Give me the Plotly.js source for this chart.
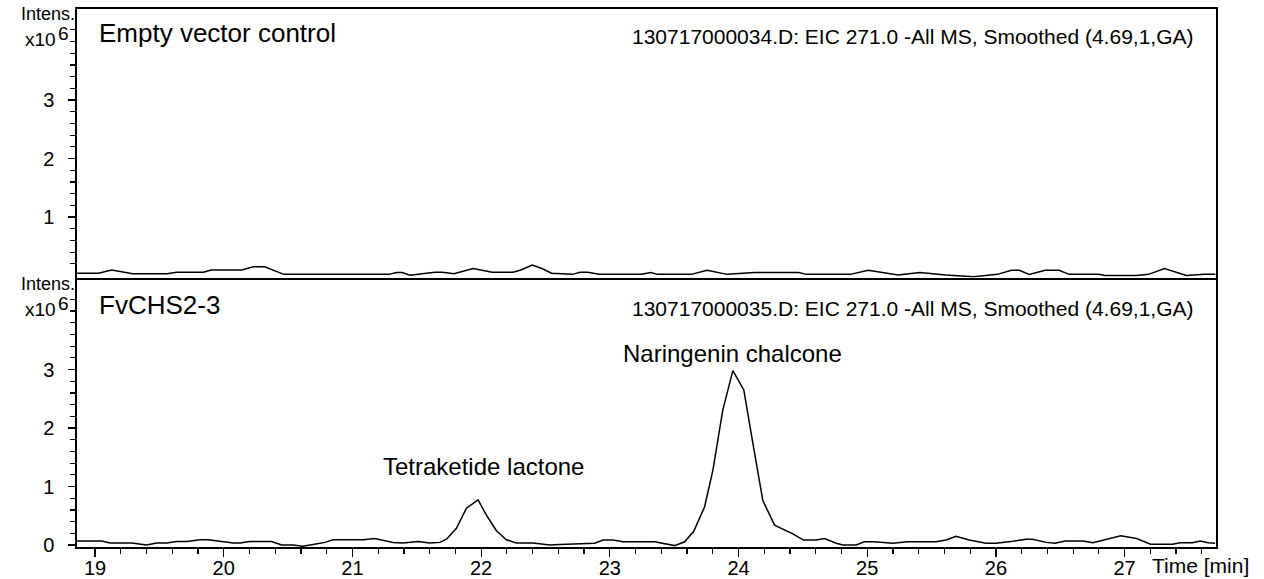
<!DOCTYPE html>
<html>
<head>
<meta charset="utf-8">
<script src="https://cdn.plot.ly/plotly-3.0.1.min.js"></script>
<style>
  html, body { margin: 0; padding: 0; background: #ffffff; }
  #chart { width: 1264px; height: 579px; }
</style>
</head>
<body>
<div id="chart"></div>
<script>
// ---- Data (retention time in min, intensity in x10^6) ----
const timeControl = [18.862, 19.026, 19.130, 19.293, 19.561, 19.634, 19.842, 19.902, 20.140, 20.229,
  20.318, 20.467, 21.283, 21.343, 21.387, 21.447, 21.640, 21.700, 21.789, 21.937,
  22.086, 22.249, 22.309, 22.398, 22.472, 22.547, 22.710, 22.769, 22.828, 22.918,
  23.245, 23.319, 23.371, 23.633, 23.756, 23.911, 24.127, 24.467, 24.529, 24.869,
  25.008, 25.240, 25.409, 25.610, 25.827, 26.012, 26.120, 26.182, 26.259, 26.383,
  26.491, 26.568, 26.800, 26.846, 27.093, 27.186, 27.310, 27.480, 27.619, 27.705];
const intensControl = [0.04, 0.04, 0.095, 0.03, 0.03, 0.055, 0.055, 0.095, 0.095, 0.15,
  0.15, 0.02, 0.02, 0.05, 0.05, 0.005, 0.055, 0.055, 0.03, 0.12,
  0.055, 0.055, 0.095, 0.18, 0.12, 0.04, 0.02, 0.055, 0.055, 0.02,
  0.02, 0.05, 0.02, 0.02, 0.09, 0.02, 0.05, 0.05, 0.02, 0.02,
  0.09, 0.01, 0.05, 0.01, -0.02, 0.02, 0.09, 0.09, 0.02, 0.09,
  0.09, 0.02, 0.02, 0.0, 0.0, 0.02, 0.12, 0.0, 0.02, 0.02];

const timeCHS = [18.858, 19.052, 19.116, 19.285, 19.401, 19.479, 19.557, 19.634, 19.712, 19.815,
  19.880, 19.996, 20.074, 20.126, 20.203, 20.372, 20.450, 20.540, 20.613, 20.695,
  20.786, 20.850, 21.083, 21.174, 21.252, 21.316, 21.394, 21.510, 21.601, 21.679,
  21.731, 21.808, 21.886, 21.976, 22.041, 22.119, 22.196, 22.274, 22.403, 22.533,
  22.610, 22.882, 22.946, 23.024, 23.102, 23.348, 23.503, 23.581, 23.651, 23.736,
  23.801, 23.878, 23.956, 24.041, 24.113, 24.189, 24.280, 24.422, 24.505, 24.603,
  24.668, 24.759, 24.810, 24.914, 24.978, 25.056, 25.198, 25.314, 25.535, 25.613,
  25.690, 25.793, 25.923, 26.001, 26.130, 26.234, 26.285, 26.389, 26.459, 26.537,
  26.676, 26.753, 26.970, 27.093, 27.201, 27.371, 27.433, 27.526, 27.588, 27.649, 27.703];
const intensCHS = [0.07, 0.07, 0.035, 0.035, 0.0, 0.035, 0.035, 0.06, 0.06, 0.09,
  0.09, 0.06, 0.035, 0.035, 0.06, 0.06, 0.0, 0.0, -0.02, 0.01,
  0.045, 0.09, 0.09, 0.11, 0.07, 0.045, 0.035, 0.06, 0.035, 0.045,
  0.1, 0.285, 0.63, 0.77, 0.51, 0.245, 0.09, 0.035, 0.035, 0.0,
  0.01, 0.03, 0.085, 0.085, 0.055, 0.055, -0.01, 0.055, 0.23, 0.65,
  1.28, 2.31, 2.98, 2.65, 1.72, 0.76, 0.34, 0.19, 0.085, 0.085,
  0.11, 0.03, 0.0, 0.0, 0.055, 0.055, 0.03, 0.055, 0.055, 0.085,
  0.15, 0.085, 0.03, 0.03, 0.065, 0.1, 0.1, 0.045, 0.03, 0.07,
  0.07, 0.04, 0.16, 0.11, 0.015, 0.015, 0.04, 0.04, 0.07, 0.04, 0.03];

const xTickVals = [19, 20, 21, 22, 23, 24, 25, 26, 27];
const yTickValsTop = [1, 2, 3];
const yTickValsBottom = [0, 1, 2, 3];

const panelTitleTop = "Empty vector control";
const panelTitleBottom = "FvCHS2-3";
const fileTextTop = "130717000034.D: EIC 271.0 -All MS, Smoothed (4.69,1,GA)";
const fileTextBottom = "130717000035.D: EIC 271.0 -All MS, Smoothed (4.69,1,GA)";
const peakLabels = ["Tetraketide lactone", "Naringenin chalcone"];
const peakLabelPos = [[22.02, 1.35], [23.95, 3.27]];

// ---- Styling ----
const FONT = "Liberation Sans, Arial, sans-serif";
const minorY = [];
for (let v = 0.2; v < 4.25; v += 0.2) minorY.push(Math.round(v * 10) / 10);

const traces = [
  { x: timeControl, y: intensControl, xaxis: 'x2', yaxis: 'y', type: 'scatter', mode: 'lines',
    line: { color: '#000', width: 1.5 }, hoverinfo: 'skip' },
  { x: timeCHS, y: intensCHS, xaxis: 'x', yaxis: 'y2', type: 'scatter', mode: 'lines',
    line: { color: '#000', width: 1.5 }, hoverinfo: 'skip' }
];

const commonY = {
  showline: true, linecolor: '#000', linewidth: 1.6, mirror: true,
  showgrid: false, zeroline: false,
  ticks: 'outside', ticklen: 7, tickwidth: 1.2, tickcolor: '#000',
  ticklabelstandoff: 10,
  tickfont: { family: FONT, size: 20, color: '#000' },
  minor: { tickvals: minorY, ticks: 'outside', ticklen: 5, tickwidth: 1.2, tickcolor: '#000', showgrid: false }
};

function sideLabel(text, x, y, anchor, size) {
  return { text: text, xref: 'paper', yref: 'paper', x: x, y: y, xanchor: anchor, yanchor: 'middle',
    showarrow: false, font: { family: FONT, size: size, color: '#000' } };
}

const layout = {
  width: 1264, height: 579,
  margin: { l: 77, r: 48, t: 9, b: 32 },
  paper_bgcolor: '#fff', plot_bgcolor: '#fff',
  showlegend: false,
  font: { family: FONT, color: '#000' },
  xaxis: {
    domain: [0, 1], anchor: 'y2', range: [18.86, 27.71],
    showline: true, linecolor: '#000', linewidth: 1.6, mirror: true,
    showgrid: false, zeroline: false,
    tickmode: 'array', tickvals: xTickVals,
    ticks: 'outside', ticklen: 8, tickwidth: 1.2, tickcolor: '#000',
    ticklabelstandoff: -6,
    tickfont: { family: FONT, size: 20, color: '#000' },
    minor: { dtick: 0.2, tick0: 19, ticks: 'outside', ticklen: 5, tickwidth: 1.2, tickcolor: '#000', showgrid: false }
  },
  xaxis2: {
    domain: [0, 1], anchor: 'y', matches: 'x',
    showline: true, linecolor: '#000', linewidth: 1.6, mirror: true,
    showgrid: false, zeroline: false, showticklabels: false, ticks: ''
  },
  yaxis: Object.assign({}, commonY, {
    domain: [0.5009, 1], anchor: 'x2', range: [-0.034, 4.556],
    tickmode: 'array', tickvals: yTickValsTop
  }),
  yaxis2: Object.assign({}, commonY, {
    domain: [0, 0.4963], anchor: 'x', range: [-0.034, 4.53],
    tickmode: 'array', tickvals: yTickValsBottom
  }),
  annotations: [
    sideLabel(panelTitleTop, 0.0176, 0.955, 'left', 26),
    sideLabel(fileTextTop, 0.9824, 0.948, 'right', 21),
    sideLabel(panelTitleBottom, 0.0176, 0.4498, 'left', 26),
    sideLabel(fileTextBottom, 0.9824, 0.4442, 'right', 21),
    { text: peakLabels[0], xref: 'x', yref: 'y2', x: peakLabelPos[0][0], y: peakLabelPos[0][1], xanchor: 'center', yanchor: 'middle',
      showarrow: false, font: { family: FONT, size: 24, color: '#000' } },
    { text: peakLabels[1], xref: 'x', yref: 'y2', x: peakLabelPos[1][0], y: peakLabelPos[1][1], xanchor: 'center', yanchor: 'middle',
      showarrow: false, font: { family: FONT, size: 24, color: '#000' } },
    sideLabel('Intens.', 0.0, 0.9907, 'right', 18),
    sideLabel('x10', -0.0165, 0.944, 'right', 19),
    sideLabel('6', -0.0050, 0.954, 'right', 19),
    sideLabel('Intens.', 0.0, 0.4887, 'right', 18),
    sideLabel('x10', -0.0165, 0.442, 'right', 19),
    sideLabel('6', -0.0050, 0.452, 'right', 19),
    sideLabel('Time [min]', 0.9420, -0.0335, 'left', 21)
  ]
};

Plotly.newPlot('chart', traces, layout, { staticPlot: true, displayModeBar: false });
</script>
</body>
</html>
